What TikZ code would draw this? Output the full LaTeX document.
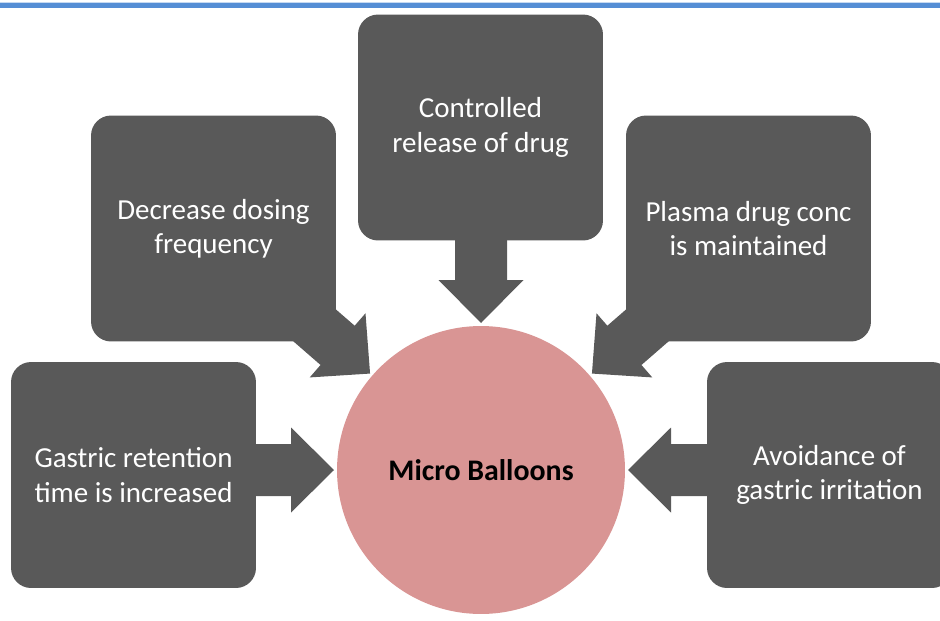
\documentclass[tikz,border=0pt]{standalone}
\usepackage{fontspec}
\setmainfont{Carlito}
\usetikzlibrary{positioning}
\definecolor{boxgray}{HTML}{595959}
\definecolor{balloon}{HTML}{D99594}
\definecolor{rulebl}{HTML}{558ED5}
\definecolor{rulelt}{HTML}{C6D9F1}
\begin{document}
\begin{tikzpicture}[x=0.02cm, y=0.02cm,
  every node/.style={font=\fontsize{16.5}{19.5}\selectfont},
  effect/.style={fill=boxgray, text=white, rounded corners=0.4cm,
    minimum width=4.9cm, minimum height=4.52cm, align=center, inner sep=0pt},
  core/.style={circle, fill=balloon, minimum size=5.76cm, inner sep=0pt,
    font=\fontsize{17}{20}\selectfont\bfseries}]
  \useasboundingbox (0,0) rectangle (940,620);
  \clip (0,0) rectangle (940,620);

  % top rule
  \fill[rulebl] (0,611.7) rectangle (940,616.7);
  \fill[rulelt] (0,616.7) rectangle (940,617.6);

  \node[core] (mb) at (481,150) {Micro Balloons};

  % block arrows into the balloon
  \foreach \ang in {180,139,90,41,0}
    \fill[boxgray, shift={(mb.center)}, rotate=\ang]
      (147,0) -- (190,42.5) -- (190,26) -- (265,26)
      -- (265,-26) -- (190,-26) -- (190,-42.5) -- cycle;

  \node[effect] (gri) at (133.5,145)   {Gastric retention\\time is increased};
  \node[effect] (ddf) at (213.5,391.5) {Decrease dosing\\frequency};
  \node[effect] (crd) at (480.5,492.5) {Controlled\\release of drug};
  \node[effect] (pdc) at (748.5,391.5) {Plasma drug conc\\is maintained};
  \node[effect] (agi) at (829.5,145)   {Avoidance of\\gastric irritation};
\end{tikzpicture}
\end{document}
